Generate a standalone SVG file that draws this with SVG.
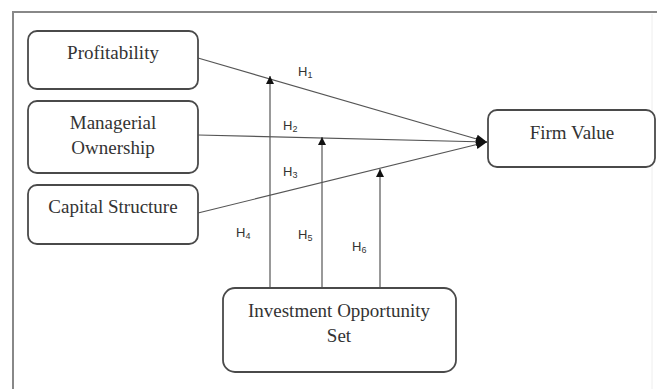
<svg xmlns="http://www.w3.org/2000/svg" width="657" height="389" viewBox="0 0 657 389">
<defs>
<marker id="ah" viewBox="0 0 10 10" refX="10" refY="5" markerWidth="8" markerHeight="8" markerUnits="userSpaceOnUse" orient="auto">
<path d="M0,0 L10,5 L0,10 Z" fill="#111"/>
</marker>
<marker id="ahb" viewBox="0 0 10 10" refX="10" refY="5" markerWidth="11" markerHeight="11" markerUnits="userSpaceOnUse" orient="auto">
<path d="M0,1 L10,5 L0,9 Z" fill="#111"/>
</marker>
</defs>
<style>
.box{fill:#fff;stroke:#4a4a4a;stroke-width:1.8}
.t{font-family:"Liberation Serif",serif;font-size:19px;fill:#333;text-anchor:middle}
.h{font-family:"Liberation Sans",sans-serif;font-size:13px;fill:#333}
.s{font-size:9px}
.ln{stroke:#555;stroke-width:1.2;fill:none}
</style>
<rect width="657" height="389" fill="#fff"/>
<path d="M13,389 L13,12 L657,12" fill="none" stroke="#888" stroke-width="2"/>
<line x1="652" y1="14" x2="652" y2="389" stroke="#eee" stroke-width="1"/>
<g id="connectors">
<line class="ln" x1="198" y1="58" x2="487" y2="142" marker-end="url(#ahb)"/>
<line class="ln" x1="198" y1="135" x2="487" y2="142" marker-end="url(#ahb)"/>
<line class="ln" x1="198" y1="213" x2="487" y2="142" marker-end="url(#ahb)"/>
<line class="ln" x1="270" y1="288" x2="270" y2="76" marker-end="url(#ah)"/>
<line class="ln" x1="322" y1="288" x2="322" y2="137" marker-end="url(#ah)"/>
<line class="ln" x1="380" y1="288" x2="380" y2="169" marker-end="url(#ah)"/>
<text class="h" x="298" y="76">H<tspan class="s" dy="2">1</tspan></text>
<text class="h" x="283" y="130">H<tspan class="s" dy="2">2</tspan></text>
<text class="h" x="283" y="176">H<tspan class="s" dy="2">3</tspan></text>
<text class="h" x="236" y="237">H<tspan class="s" dy="2">4</tspan></text>
<text class="h" x="298" y="239">H<tspan class="s" dy="2">5</tspan></text>
<text class="h" x="352" y="251">H<tspan class="s" dy="2">6</tspan></text>
</g>
<g id="profitability">
<rect class="box" x="28" y="31" width="170" height="58" rx="9"/>
<text class="t" x="113" y="59">Profitability</text>
</g>
<g id="managerial-ownership">
<rect class="box" x="28" y="101" width="170" height="72" rx="9"/>
<text class="t" x="113" y="129">Managerial</text>
<text class="t" x="113" y="154">Ownership</text>
</g>
<g id="capital-structure">
<rect class="box" x="28" y="185" width="170" height="59" rx="9"/>
<text class="t" x="113" y="213">Capital Structure</text>
</g>
<g id="firm-value">
<rect class="box" x="488" y="110" width="167" height="57" rx="9"/>
<text class="t" x="572" y="139">Firm Value</text>
</g>
<g id="investment-opportunity-set">
<rect class="box" x="223" y="288" width="233" height="84" rx="12"/>
<text class="t" x="339" y="317">Investment Opportunity</text>
<text class="t" x="339" y="342">Set</text>
</g>
</svg>
